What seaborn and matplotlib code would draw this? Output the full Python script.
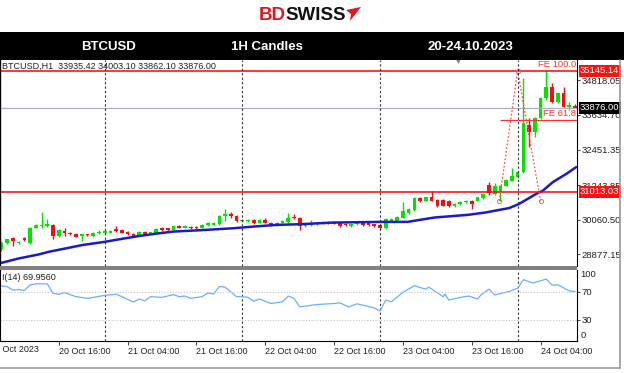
import matplotlib
matplotlib.use("Agg")
import matplotlib.pyplot as plt
import matplotlib.transforms as mtransforms
from matplotlib.patches import Rectangle, Polygon
import numpy as np
import pandas as pd
import seaborn as sns

# BTCUSD 1h candles, 20 Oct 06:00 -> 24 Oct 10:00
opens = [29049, 29278, 29450, 29255, 29427, 29278, 29793, 29850, 29860, 29885,
         29507, 29679, 29622, 29587, 29507, 29564, 29507, 29599, 29599, 29622,
         29736, 29702, 29645, 29587, 29541, 29645, 29587, 29622, 29770, 29770,
         29713, 29850, 29793, 29827, 29827, 29793, 29885, 29885, 29908, 30194,
         30252, 30194, 30022, 30022, 30057, 29965, 30057, 29965, 29885, 29965,
         29988, 30160, 30137, 29850, 29885, 29908, 29930, 29988, 29988, 29965,
         29930, 29850, 29908, 29942, 29942, 29908, 29885, 29770, 30022, 30022,
         30137, 30275, 30389, 30801, 30710, 30824, 30733, 30733, 30710, 30515,
         30595, 30652, 30710, 30710, 30801, 31248, 30939, 31031, 31225, 31397,
         31512, 31684, 33288, 33059, 33517, 34204, 34605, 34090, 34376, 33918,
         33935.42]
highs = [29335, 29420, 29470, 29340, 29470, 29820, 29900, 30309, 30080, 29930,
         29740, 29793, 29650, 29610, 29580, 29590, 29630, 29700, 29710, 29700,
         29850, 29740, 29680, 29610, 29670, 29680, 29650, 29790, 29800, 29790,
         29880, 29880, 29870, 29850, 29850, 29910, 29970, 29990, 30220, 30424,
         30309, 30230, 30080, 30080, 30080, 30070, 30137, 29990, 29990, 30050,
         30275, 30252, 30170, 29930, 30045, 29990, 30010, 30010, 30010, 29990,
         29950, 29930, 29990, 29960, 29970, 29930, 29910, 30110, 30110, 30190,
         30652, 30460, 30830, 30830, 30850, 31054, 30760, 30760, 30740, 30620,
         30700, 30740, 30740, 30850, 30970, 31340, 31300, 31260, 31450, 31833,
         31710, 34900, 33517, 33550, 34240, 35160, 34720, 34400, 34605, 34090,
         34003.10]
lows = [28991, 29250, 29165, 29230, 29335, 29250, 29770, 29793, 29830, 29393,
        29480, 29507, 29540, 29460, 29335, 29510, 29480, 29580, 29580, 29600,
        29650, 29600, 29540, 29480, 29520, 29560, 29570, 29600, 29680, 29690,
        29690, 29770, 29770, 29750, 29740, 29770, 29860, 29870, 29880, 30022,
        30110, 30000, 30000, 30000, 29920, 29940, 29940, 29860, 29860, 29940,
        29960, 30080, 29702, 29830, 29860, 29880, 29910, 29910, 29900, 29820,
        29850, 29830, 29890, 29860, 29860, 29830, 29740, 29740, 30000, 30000,
        30110, 30250, 30360, 30680, 30690, 30690, 30510, 30520, 30510, 30490,
        30570, 30630, 30424, 30690, 30780, 30910, 30910, 30710, 31200, 31370,
        31490, 31650, 32543, 32887, 33490, 34150, 34060, 34060, 33890, 33800,
        33862.10]
closes = [29278, 29392, 29335, 29312, 29381, 29793, 29873, 29885, 29885, 29507,
          29702, 29599, 29564, 29484, 29564, 29530, 29599, 29645, 29679, 29679,
          29679, 29622, 29564, 29507, 29645, 29587, 29622, 29759, 29702, 29713,
          29850, 29793, 29850, 29770, 29770, 29885, 29942, 29965, 30194, 30252,
          30194, 30022, 30057, 30057, 29942, 30045, 29965, 29885, 29965, 30022,
          30137, 30114, 29850, 29908, 29965, 29965, 29988, 29930, 29930, 29850,
          29873, 29908, 29965, 29885, 29885, 29850, 29770, 30080, 30080, 30160,
          30366, 30424, 30801, 30710, 30824, 30710, 30538, 30538, 30538, 30595,
          30676, 30710, 30595, 30824, 30939, 30960, 31225, 31225, 31420, 31569,
          31684, 33345, 33059, 33517, 34204, 34605, 34090, 34376, 33918, 33976,
          33876.00]

# moving average (blue) and RSI(14) readings
ma_idx = [0, 3, 6.5, 8.3, 11.2, 14.1, 17.8, 20.5, 24, 27, 29.9, 34.5, 40.4, 43.9, 48,
          52, 57.9, 66.1, 70.8, 75.5, 81.4, 84.4, 88.5, 90.2, 93.2, 94.4, 96.1, 98.5, 100.2]
ma_vals = [28590, 28740, 28877, 28969, 29083, 29198, 29301, 29392, 29507, 29587, 29656,
           29702, 29770, 29827, 29885, 29908, 29965, 29988, 29988, 30137, 30229, 30309,
           30458, 30595, 30939, 31054, 31340, 31627, 31856]

rsi_idx = [0, 1, 2, 3, 4, 5, 6, 8, 9, 10, 11, 13, 15, 16, 18, 20, 21, 23, 24, 25,
           26, 28, 30, 31, 32, 33, 35, 36, 37, 38, 39, 41, 42, 43, 44, 45, 47, 49, 50, 51,
           52, 55, 58, 59, 60.5, 62, 65, 66, 67, 68, 70, 72, 74, 74.5, 77, 77.3, 78, 80, 81.5, 83,
           83.6, 85, 86, 88.5, 90, 91, 92.7, 95, 96, 97, 99, 100]
rsi_vals = [78, 77, 72, 73, 71.5, 79.6, 81, 81, 67.6, 66, 68.6, 62.8, 60.4, 61.8, 64.7, 66.2,
            62.8, 55.1, 59.4, 57, 62.8, 61.8, 65.7, 62.8, 63.7, 60.4, 62.8, 68.1, 66.6, 77.2,
            76.3, 62.8, 62.8, 61.8, 56.5, 59.4, 53.1, 55.5, 63.7, 60.4, 48.3, 51.7, 53.1, 54.1,
            48.3, 52.7, 46.9, 42.5, 58, 55.5, 69, 78.2, 73.4, 76.3, 62.8, 66.6, 58, 61.8, 63.7,
            59.4, 65.2, 73.4, 65.2, 70, 74.8, 86.9, 82.1, 87.8, 79.2, 79.6, 71, 70]

resist_hi = 35145.14
support = 31013.03
last_price = 33876.00
fe618 = 33460
price_ticks = [34818.05, 33634.70, 32451.35, 31243.85, 30060.50, 28877.15]
fe_idx = [86.8, 90, 94]
fe_vals = [30700, 35145, 30700]

day_sep = [18, 42, 66, 90]
time_idx = [10, 22, 34, 46, 58, 70, 82, 94]
time_labels = ["20 Oct 16:00", "21 Oct 04:00", "21 Oct 16:00", "22 Oct 04:00",
               "22 Oct 16:00", "23 Oct 04:00", "23 Oct 16:00", "24 Oct 04:00"]

GREEN = "#00e400"
RED = "#f01010"

sns.set_style("white")
plt.rcParams["font.family"] = ["Liberation Sans", "DejaVu Sans"]

W, H = 624, 373
fig = plt.figure(figsize=(W / 100, H / 100), dpi=100)


def box(x0, y0, x1, y1):
    return [x0 / W, 1 - y1 / H, (x1 - x0) / W, (y1 - y0) / H]


ax = fig.add_axes(box(0, 60, 577, 265.5))
axr = fig.add_axes(box(0, 269.5, 577, 341))

df = pd.DataFrame({"o": opens, "h": highs, "l": lows, "c": closes})
df["i"] = np.arange(len(df))
colors = np.where(df["c"] >= df["o"], GREEN, RED)
ax.vlines(df["i"], df["l"], df["h"], colors=colors, lw=1.0)
ax.bar(df["i"], (df["c"] - df["o"]).abs().clip(lower=40), bottom=df[["o", "c"]].min(axis=1),
       width=0.64, color=colors, lw=0)

sns.lineplot(x=ma_idx, y=ma_vals, ax=ax, color="#1a1acc", lw=1.8)

ax.axhline(resist_hi, color="#ff0000", lw=1.1)
ax.axhline(support, color="#ff0000", lw=1.1)
ax.axhline(last_price, color="#aab2c2", lw=0.9)
ax.hlines(fe618, 87, 100.4, color="#ff3030", lw=0.9)
ax.plot(fe_idx, fe_vals, ls=(0, (1.5, 1.5)), color="#ff5050", lw=0.9,
        marker="o", ms=3, fillstyle="none", mew=0.6)

for d in day_sep:
    ax.axvline(d, color="#333333", ls=(0, (2, 2)), lw=0.8)
    axr.axvline(d, color="#333333", ls=(0, (2, 2)), lw=0.8)

ax.set_xlim(-0.25, 100.35)
ax.set_ylim(28500, 35510)
ax.set_xticks([])
ax.yaxis.tick_right()
ax.set_yticks(price_ticks, [f"{v:.2f}" for v in price_ticks])
ax.tick_params(axis="y", right=True, length=2.5, width=0.6, pad=1, labelsize=6.8, colors="#222222")

tr = mtransforms.blended_transform_factory(ax.transAxes, ax.transData)
for val, bg in [(resist_hi, "#ff1010"), (support, "#ff1010"), (last_price, "#000000")]:
    ax.text(1.0 + 3 / 577, val, f"{val:.2f}", transform=tr, ha="left", va="center",
            fontsize=6.8, color="white", clip_on=False, zorder=5,
            bbox=dict(boxstyle="square,pad=0.15", fc=bg, ec="none"))

ax.text(100.2, resist_hi + 60, "FE 100.0", ha="right", va="bottom", fontsize=6.8, color="#ff3030")
ax.text(100.2, fe618 + 60, "FE 61.8", ha="right", va="bottom", fontsize=6.8, color="#ff3030")

for s in ["top", "bottom"]:
    ax.spines[s].set_visible(False)
ax.spines["right"].set_color("#000000")
ax.spines["right"].set_linewidth(0.8)
ax.spines["left"].set_color("#000000")
ax.spines["left"].set_linewidth(1.0)

# RSI panel
sns.lineplot(x=rsi_idx, y=rsi_vals, ax=axr, color="#6ab0ff", lw=0.9)
axr.axhline(70, color="#c8c8c8", ls=(0, (1, 1.5)), lw=0.8)
axr.axhline(30, color="#c8c8c8", ls=(0, (1, 1.5)), lw=0.8)
axr.set_xlim(-0.25, 100.35)
axr.set_ylim(0, 101.3)
axr.yaxis.tick_right()
axr.set_yticks([70, 30], ["70", "30"])
axr.tick_params(axis="y", right=True, length=2.5, width=0.6, pad=1, labelsize=6.8, colors="#222222")
trr = mtransforms.blended_transform_factory(axr.transAxes, axr.transData)
axr.text(1.0 + 3.5 / 577, 93.6, "100", transform=trr, ha="left", va="center", fontsize=6.8, color="#222222")
axr.text(1.0 + 3.5 / 577, 7.3, "0", transform=trr, ha="left", va="center", fontsize=6.8, color="#222222")
axr.set_xticks(time_idx, time_labels)
axr.tick_params(axis="x", bottom=True, length=3, width=0.6, pad=1.5, labelsize=6.5, colors="#222222")
for lab in axr.get_xticklabels():
    lab.set_ha("left")
axr.text(-2, -11.5, "20 Oct 2023", ha="left", va="center", fontsize=6.5, color="#222222", clip_on=False)
axr.spines["top"].set_visible(False)
for s in ["right", "bottom", "left"]:
    axr.spines[s].set_color("#000000")
    axr.spines[s].set_linewidth(0.8)
axr.set_xlabel("")
axr.set_ylabel("")
ax.set_xlabel("")
ax.set_ylabel("")

fig.text(2 / W, 1 - 66.5 / H, "BTCUSD,H1  33935.42 34003.10 33862.10 33876.00",
         ha="left", va="center", fontsize=6.5, color="#222222")
fig.text(2 / W, 1 - 277 / H, "I(14) 69.9560", ha="left", va="center", fontsize=6.5, color="#222222")
fig.text(458 / W, 1 - 62.5 / H, "\u25bc", ha="center", va="center", fontsize=5, color="#7a8494")

# panel separator and outer frame
fig.patches.append(Rectangle((0, 1 - 269.5 / H), 577 / W, 3.5 / H, transform=fig.transFigure,
                             fc="#808080", ec="none"))
fig.add_artist(plt.Line2D([620 / W, 620 / W], [1 - 368 / H, 1 - 60 / H], transform=fig.transFigure,
                          color="#9a9a9a", lw=1.2))
fig.add_artist(plt.Line2D([0, 620 / W], [1 - 368 / H, 1 - 368 / H], transform=fig.transFigure,
                          color="#9a9a9a", lw=1.2))

# header bar
fig.patches.append(Rectangle((0, 1 - 60 / H), 1, 28 / H, transform=fig.transFigure, fc="#000000", ec="none"))
for x, txt in [(108, "BTCUSD"), (267, "1H Candles"), (470, "20-24.10.2023")]:
    fig.text(x / W, 1 - 47.5 / H, txt, ha="center", va="center", fontsize=9.5,
             fontweight="bold", color="white")

# logo
fig.text(285.5 / W, 1 - 15.5 / H, "BD", ha="right", va="center", fontsize=13.5,
         fontweight="bold", color="#e3161e")
fig.text(285.5 / W, 1 - 15.5 / H, "SWISS", ha="left", va="center", fontsize=13.5,
         fontweight="bold", color="#111111")
plane = [(346, 10), (361, 7), (350, 21), (351, 14)]
fig.patches.append(Polygon([(x / W, 1 - y / H) for x, y in plane], closed=True,
                           transform=fig.transFigure, fc="#e3161e", ec="none"))

fig.savefig("out.png", dpi=100, facecolor="white")
